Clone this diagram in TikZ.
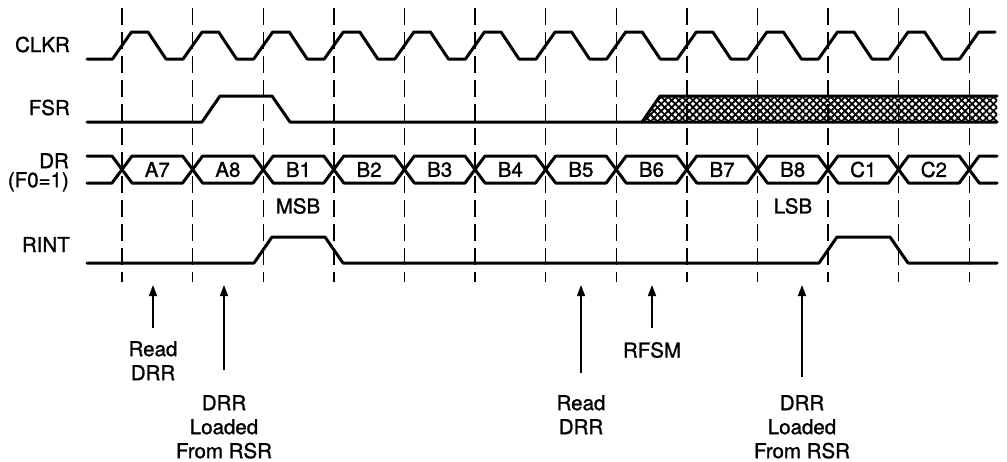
\documentclass[tikz,border=0pt]{standalone}
\usepackage{fontspec}
\setmainfont{TeX Gyre Heros}
\newfontfamily\hvb{TeX Gyre Heros}[FakeBold=1.2]
\usetikzlibrary{arrows.meta,patterns.meta}
\begin{document}
\begin{tikzpicture}[x=1pt,y=-1pt,
  wave/.style={line width=3pt,line join=round,line cap=round},
  gridline/.style={line width=1.4pt,dash pattern=on 17pt off 7pt},
  lbl/.style={inner sep=0pt,font=\hvb\fontsize{20.5}{24}\selectfont},
  arr/.style={line width=1.6pt,-{Triangle[length=11pt,width=8pt]}}]
\useasboundingbox (0,0) rectangle (1007,461);
\def\P{70.6}
% vertical dashed reference lines
\foreach \k in {0,...,12}{
  \draw[gridline] ({122+\k*\P},8) -- ({122+\k*\P},282);
}
% CLKR
\draw[wave] (87,59) \foreach \k in {0,...,11}{
   -- ({122+\k*\P-9.5},59) -- ({122+\k*\P+9.5},32) -- ({122+\k*\P+26},32) -- ({122+\k*\P+44},59) }
   -- ({122+12*\P-9.5},59) -- ({122+12*\P+9.5},32) -- (995,32);
% FSR
\fill[pattern={Lines[angle=45,distance=5pt,line width=1.8pt]}] (642,122) -- (660,96) -- (997,96) -- (997,122) -- cycle;
\fill[pattern={Lines[angle=-45,distance=5pt,line width=1.8pt]}] (642,122) -- (660,96) -- (997,96) -- (997,122) -- cycle;
\draw[wave] (87,122) -- (202,122) -- (220,96) -- (272,96) -- (290,122) -- (997,122);
\draw[wave] (642,122) -- (660,96) -- (997,96);
% DR bus
\draw[wave] (87,156) \foreach \k in {0,...,12}{
   -- ({122+\k*\P-10},156) -- ({122+\k*\P},169.5) -- ({122+\k*\P+10},156) } -- (997,156);
\draw[wave] (87,183) \foreach \k in {0,...,12}{
   -- ({122+\k*\P-10},183) -- ({122+\k*\P},169.5) -- ({122+\k*\P+10},183) } -- (997,183);
\foreach \t [count=\i from 0] in {A7,A8,B1,B2,B3,B4,B5,B6,B7,B8,C1,C2}{
  \node[lbl] (d\i) at ({122+\i*\P+\P/2},169.5) {\t};
}
% RINT
\draw[wave] (87,263) -- (254,263) -- (272,237) -- (325,237) -- (343,263) -- (819,263) -- (837,237) -- (890,237) -- (908,263) -- (997,263);
% signal names
\node[lbl,anchor=base east] (nclk) at (70,52) {CLKR};
\node[lbl,anchor=base east] (nfsr) at (70,115) {FSR};
\node[lbl,anchor=north east,align=right,font=\hvb\fontsize{20.5}{19}\selectfont] (ndr) at (69,153) {DR\\(F0=1)};
\node[lbl,anchor=base east] (nrint) at (70,252) {RINT};
\node[lbl] (msb) at (298,206) {MSB};
\node[lbl] (lsb) at (793,206) {LSB};
% annotations
\node[lbl,anchor=north,align=center] (read1) at (153,341) {Read\\DRR};
\node[lbl,anchor=north,align=center] (load1) at (224,395) {DRR\\Loaded\\From RSR};
\node[lbl,anchor=north,align=center] (read2) at (581,395) {Read\\DRR};
\node[lbl,anchor=north] (rfsm) at (652,342) {RFSM};
\node[lbl,anchor=north,align=center] (load2) at (802,395) {DRR\\Loaded\\From RSR};
\coordinate (h1) at (153,285); \coordinate (t1) at (153,328);
\coordinate (h2) at (224,285); \coordinate (t2) at (224,370);
\coordinate (h3) at (581,285); \coordinate (t3) at (581,373);
\coordinate (h4) at (652,285); \coordinate (t4) at (652,328);
\coordinate (h5) at (802,285); \coordinate (t5) at (802,377);
\foreach \i in {1,...,5}{ \draw[arr] (t\i) -- (h\i); }
\end{tikzpicture}
\end{document}
